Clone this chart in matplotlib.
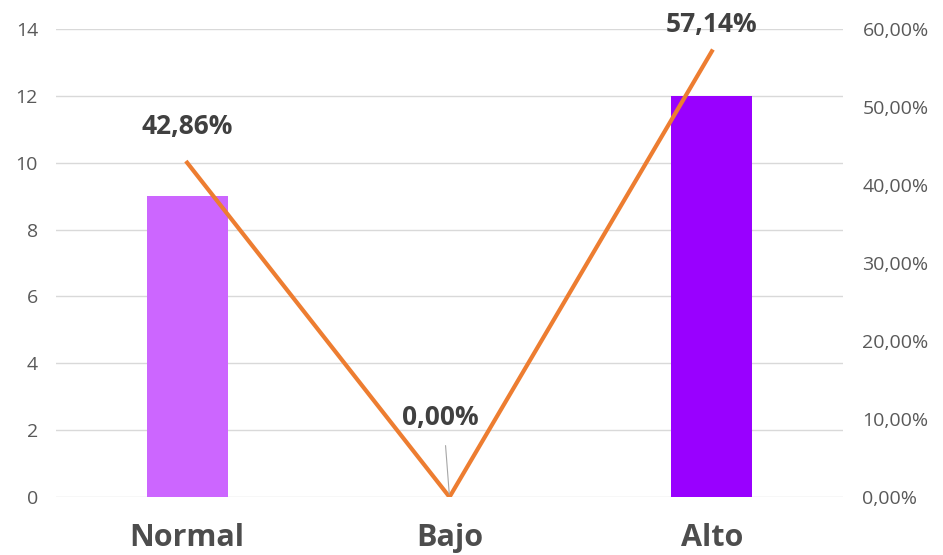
import numpy as np
import matplotlib.pyplot as plt

plt.rcParams['font.family'] = ['Open Sans', 'DejaVu Sans']

# Data
categories = ['Normal', 'Bajo', 'Alto']
counts = [9, 0, 12]
percents = [0.4286, 0.0, 0.5714]
pct_labels = ['42,86%', '0,00%', '57,14%']
bar_colors = ['#CC66FF', '#9900FF', '#9900FF']

fig = plt.figure(figsize=(9.43, 5.55), dpi=100)
ax = fig.add_axes([56/943, 1 - 497/555, 787/943, 468/555])
x = np.arange(len(categories))

ax.bar(x, counts, width=0.31, color=bar_colors, zorder=2)
ax.set_xlim(-0.5, 2.5)
ax.set_ylim(0, 14)
ax.set_yticks(np.arange(0, 15, 2))
ax.grid(axis='y', color='#D9D9D9', linewidth=1, zorder=0)
ax.set_xticks(x)
ax.set_xticklabels(categories, fontsize=22, fontweight='bold', color='#4D4D4D')
ax.tick_params(axis='x', length=0, pad=19)
ax.tick_params(axis='y', length=0, labelsize=14, labelcolor='#595959', pad=13)
for s in ax.spines.values():
    s.set_visible(False)

ax2 = ax.twinx()
ax2.set_ylim(0, 0.6)
ax2.set_yticks(np.arange(0, 0.61, 0.1))
ax2.set_yticklabels(['{:.2f}%'.format(v * 100).replace('.', ',') for v in np.arange(0, 0.61, 0.1)])
ax2.tick_params(axis='y', length=0, labelsize=14, labelcolor='#595959', pad=14)
for s in ax2.spines.values():
    s.set_visible(False)
ax2.plot(x, percents, color='#ED7D31', linewidth=3, zorder=3)

# data labels (offsets in points)
offsets = [(0, 26), (-6.5, 57), (0, 19)]
for xi, p, lab, off in zip(x, percents, pct_labels, offsets):
    ax2.annotate(lab, (xi, p), xytext=off, textcoords='offset points',
                 ha='center', va='center', fontsize=19, fontweight='bold', color='#404040')
# leader line for the zero label
ax2.annotate('', (1, 0), xytext=(-3, 39), textcoords='offset points',
             arrowprops=dict(arrowstyle='-', color='#A6A6A6', linewidth=0.8))

fig.savefig('out.png', dpi=100)
